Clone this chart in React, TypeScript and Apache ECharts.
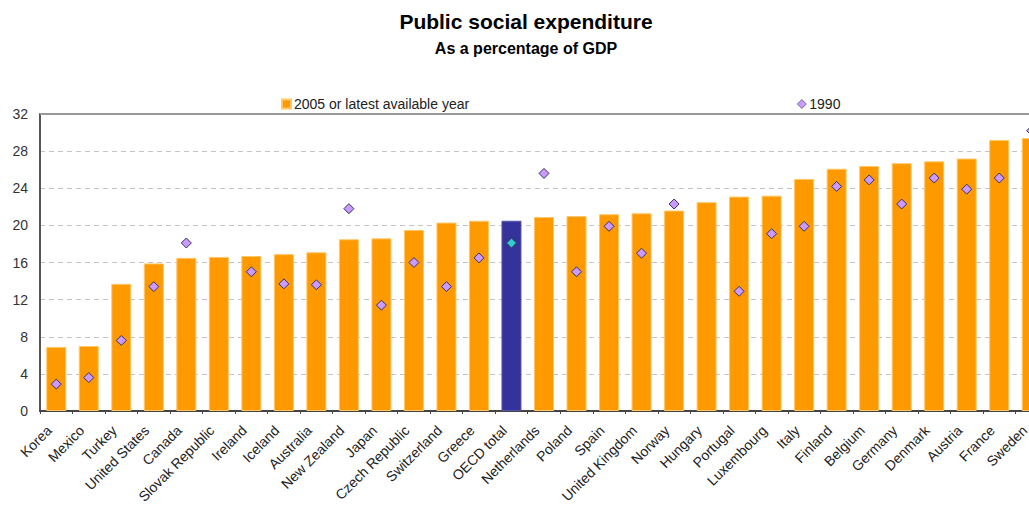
import React, { useEffect, useRef } from "react";
import * as echarts from "echarts";

const categories = [
  "Korea", "Mexico", "Turkey", "United States", "Canada", "Slovak Republic",
  "Ireland", "Iceland", "Australia", "New Zealand", "Japan", "Czech Republic",
  "Switzerland", "Greece", "OECD total", "Netherlands", "Poland", "Spain",
  "United Kingdom", "Norway", "Hungary", "Portugal", "Luxembourg", "Italy",
  "Finland", "Belgium", "Germany", "Denmark", "Austria", "France", "Sweden",
];

const values2005 = [
  6.9, 7.0, 13.7, 15.9, 16.5, 16.6, 16.7, 16.9, 17.1, 18.5, 18.6, 19.5,
  20.3, 20.5, 20.5, 20.9, 21.0, 21.2, 21.3, 21.6, 22.5, 23.1, 23.2, 25.0,
  26.1, 26.4, 26.7, 26.9, 27.2, 29.2, 29.4,
];

const values1990: (number | null)[] = [
  2.9, 3.6, 7.6, 13.4, 18.1, null, 15.0, 13.7, 13.6, 21.8, 11.4, 16.0,
  13.4, 16.5, 18.1, 25.6, 15.0, 19.9, 17.0, 22.3, null, 12.9, 19.1, 19.9,
  24.2, 24.9, 22.3, 25.1, 23.9, 25.1, 30.2,
];

const yTicks = { min: 0, max: 32, interval: 4 };
const HIGHLIGHT = "OECD total";
const SERIES_2005 = "2005 or latest available year";
const SERIES_1990 = "1990";

const ORANGE = "#FF9900";
const NAVY = "#333399";
const LAVENDER = "#CC99FF";
const TEAL = "#33CCCC";
const FONT = "'Liberation Sans', Arial, sans-serif";

export default function App() {
  const ref = useRef<HTMLDivElement>(null);

  useEffect(() => {
    if (!ref.current) return;
    const chart = echarts.init(ref.current, undefined, { renderer: "svg" });

    const barData = values2005.map((v, i) =>
      categories[i] === HIGHLIGHT
        ? { value: v, itemStyle: { color: NAVY, borderColor: "#5555aa" } }
        : v
    );
    const dotData = values1990.map((v, i) =>
      categories[i] === HIGHLIGHT && v != null
        ? { value: v, itemStyle: { color: TEAL } }
        : v == null
        ? "-"
        : v
    );

    chart.setOption({
      animation: false,
      backgroundColor: "#ffffff",
      textStyle: { fontFamily: FONT },
      title: [
        {
          text: "Public social expenditure",
          left: 521,
          top: 6,
          textAlign: "center",
          textStyle: { fontSize: 21, fontWeight: "bold", color: "#000", fontFamily: FONT },
        },
        {
          text: "As a percentage of GDP",
          left: 521,
          top: 35,
          textAlign: "center",
          textStyle: { fontSize: 16, fontWeight: "bold", color: "#000", fontFamily: FONT },
        },
      ],
      legend: [
        {
          data: [{ name: SERIES_2005, icon: "rect" }],
          left: 276,
          top: 92,
          itemWidth: 9,
          itemHeight: 9,
          itemGap: 4,
          textStyle: { fontSize: 14, color: "#222", fontFamily: FONT, padding: [0, 0, 0, -2] },
        },
        {
          data: [{ name: SERIES_1990, icon: "diamond" }],
          left: 792,
          top: 92,
          itemWidth: 9,
          itemHeight: 9,
          itemStyle: { borderWidth: 0.6 },
          textStyle: { fontSize: 14, color: "#222", fontFamily: FONT, padding: [0, 0, 0, -2] },
        },
      ],
      grid: { left: 40, top: 114, right: 2, bottom: 97, containLabel: false },
      xAxis: {
        type: "category",
        data: categories,
        axisLine: { lineStyle: { color: "#444", width: 2 } },
        axisTick: { show: true, length: 3, lineStyle: { color: "#444" } },
        axisLabel: {
          interval: 0,
          rotate: 45,
          margin: 10,
          padding: [0, 10, 0, 0],
          fontSize: 14,
          color: "#222",
          fontFamily: FONT,
        },
      },
      yAxis: {
        type: "value",
        min: yTicks.min,
        max: yTicks.max,
        interval: yTicks.interval,
        axisLine: { show: true, lineStyle: { color: "#555", width: 2 } },
        axisTick: { show: false },
        axisLabel: { fontSize: 14, color: "#333", margin: 12, fontFamily: FONT },
        splitLine: { lineStyle: { color: "#c4c4c4", type: [5, 4], width: 1 } },
      },
      series: [
        {
          name: SERIES_2005,
          type: "bar",
          data: barData,
          barWidth: 20,
          itemStyle: { color: ORANGE, borderColor: "#FFC766", borderWidth: 1 },
          markLine: {
            silent: true,
            symbol: "none",
            label: { show: false },
            lineStyle: { color: "#999", type: "solid", width: 2 },
            data: [{ yAxis: yTicks.max }],
          },
        },
        {
          name: SERIES_1990,
          type: "scatter",
          data: dotData,
          symbol: "diamond",
          symbolSize: 10,
          itemStyle: { color: LAVENDER, borderColor: "#333366", borderWidth: 1, opacity: 1 },
          z: 5,
        },
      ],
    });

    return () => chart.dispose();
  }, []);

  return (
    <div
      ref={ref}
      style={{ position: "fixed", left: 0, top: 0, width: 1050, height: 508 }}
    />
  );
}
